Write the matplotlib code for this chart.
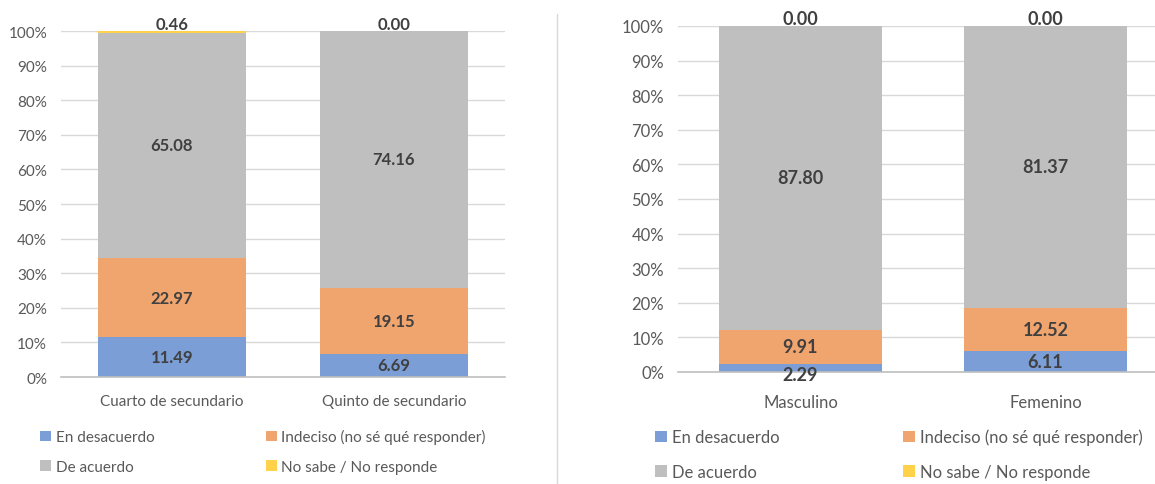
import numpy as np
import matplotlib.pyplot as plt
from matplotlib.patches import Patch

plt.rcParams['font.family'] = ['Lato', 'DejaVu Sans']

# Data
series = ['En desacuerdo', 'Indeciso (no sé qué responder)', 'De acuerdo', 'No sabe / No responde']
colors = ['#7B9ED7', '#F0A46E', '#BFBFBF', '#FFD24A']

grado_cats = ['Cuarto de secundario', 'Quinto de secundario']
grado_vals = [
    [11.49, 6.69],
    [22.97, 19.15],
    [65.08, 74.16],
    [0.46, 0.00],
]

sexo_cats = ['Masculino', 'Femenino']
sexo_vals = [
    [2.29, 6.11],
    [9.91, 12.52],
    [87.80, 81.37],
    [0.00, 0.00],
]

TICK_COL = '#595959'
LABEL_COL = '#404040'
GRID_COL = '#D9D9D9'


def stacked(ax, cats, vals, width=0.666, tick_fs=11, lab_fs=12, xpad=12):
    x = np.arange(len(cats))
    bottom = np.zeros(len(cats))
    for i, v in enumerate(vals):
        v = np.array(v)
        ax.bar(x, v, width, bottom=bottom, color=colors[i], zorder=2)
        for xi, b, val in zip(x, bottom, v):
            if i == len(vals) - 1:
                # last (tiny) segment: label sits on top of the stack
                ax.annotate(f'{val:.2f}', (xi, b + val), xytext=(0, -1), textcoords='offset points',
                            ha='center', va='bottom', fontsize=lab_fs, fontweight='bold', color=LABEL_COL)
            else:
                off = -5 if val < 3 else 0
                ax.annotate(f'{val:.2f}', (xi, b + val / 2), xytext=(0, off), textcoords='offset points',
                            ha='center', va='center', fontsize=lab_fs, fontweight='bold', color=LABEL_COL)
        bottom += v
    ax.set_ylim(0, 100)
    ax.set_xlim(-0.5, len(cats) - 0.5)
    ax.set_yticks(np.arange(0, 101, 10))
    ax.set_yticklabels([f'{t}%' for t in range(0, 101, 10)])
    ax.set_xticks(x)
    ax.set_xticklabels(cats)
    ax.yaxis.grid(True, color=GRID_COL, linewidth=1, zorder=0)
    ax.set_axisbelow(True)
    for s in ['top', 'right', 'left']:
        ax.spines[s].set_visible(False)
    ax.spines['bottom'].set_color('#BFBFBF')
    ax.spines['bottom'].set_linewidth(1.2)
    ax.tick_params(axis='both', length=0, labelsize=tick_fs, colors=TICK_COL)
    ax.tick_params(axis='x', pad=xpad)
    ax.tick_params(axis='y', pad=10)


fig = plt.figure(figsize=(11.55, 4.85), dpi=100)

ax1 = fig.add_axes([0.0528, 0.2206, 0.3844, 0.7134])
stacked(ax1, grado_cats, grado_vals, tick_fs=11, lab_fs=12, xpad=12)

ax2 = fig.add_axes([0.587, 0.231, 0.4242, 0.7134])
stacked(ax2, sexo_cats, sexo_vals, tick_fs=12, lab_fs=13, xpad=16)

# separator line between the two charts
fig.add_artist(plt.Line2D([0.482, 0.482], [0.0, 0.97], color='#D9D9D9', linewidth=1))

# legends (column-wise order so rows read En/Indeciso, De/No sabe)
order = [0, 2, 1, 3]
handles = [Patch(facecolor=colors[i], label=series[i]) for i in order]
leg_kw = dict(ncol=2, frameon=False, handlelength=0.7, handleheight=0.7,
              handletextpad=0.3, labelcolor=TICK_COL, loc='upper left')
fig.legend(handles=handles, bbox_to_anchor=(0.023, 0.141), columnspacing=7.3,
           labelspacing=1.0, fontsize=11, **leg_kw)
fig.legend(handles=handles, bbox_to_anchor=(0.554, 0.145), columnspacing=7.45,
           labelspacing=1.1, fontsize=12, **leg_kw)

fig.savefig('out.png', dpi=100)
